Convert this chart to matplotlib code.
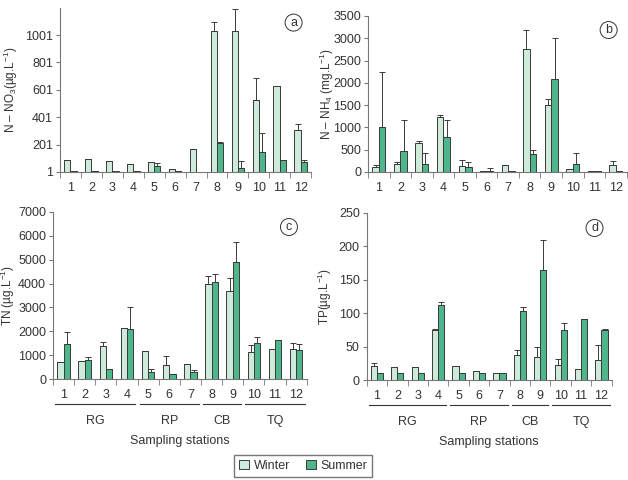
import matplotlib
matplotlib.use("Agg")
import matplotlib.pyplot as plt
import numpy as np
from matplotlib.patches import Patch

plt.rcParams['font.family'] = ['Liberation Sans', 'DejaVu Sans']
plt.rcParams['font.size'] = 9
plt.rcParams['mathtext.fontset'] = 'custom'
plt.rcParams['mathtext.rm'] = 'Liberation Sans'
plt.rcParams['mathtext.it'] = 'Liberation Sans'
plt.rcParams['text.color'] = '#333333'
plt.rcParams['axes.labelcolor'] = '#333333'
plt.rcParams['xtick.color'] = '#555555'
plt.rcParams['ytick.color'] = '#555555'
plt.rcParams['xtick.labelcolor'] = '#333333'
plt.rcParams['ytick.labelcolor'] = '#333333'

stations = [str(i) for i in range(1, 13)]
groups = ["RG", "RP", "CB", "TQ"]
group_ranges = [(1, 4), (5, 7), (8, 9), (10, 12)]

# N-NO3 (µg/L)
no3_winter = [85, 98, 81, 57, 72, 25, 172, 1030, 1030, 528, 628, 308]
no3_winter_err = [0, 0, 0, 0, 0, 0, 0, 65, 160, 157, 0, 47]
no3_summer = [8, 6, 5, 5, 45, 5, 3, 213, 33, 147, 86, 72]
no3_summer_err = [0, 0, 0, 0, 25, 0, 0, 9, 51, 142, 0, 14]

# N-NH4
nh4_winter = [120, 170, 640, 1240, 125, 25, 150, 2760, 1510, 60, 30, 150]
nh4_winter_err = [40, 60, 50, 30, 145, 0, 0, 435, 130, 0, 0, 105]
nh4_summer = [1000, 478, 170, 775, 105, 30, 15, 405, 2080, 180, 20, 20]
nh4_summer_err = [1246, 682, 260, 390, 120, 50, 0, 80, 920, 255, 0, 0]

# TN
tn_winter = [700, 740, 1380, 2120, 1160, 590, 610, 4000, 3670, 1130, 1240, 1240]
tn_winter_err = [0, 0, 150, 0, 0, 370, 0, 300, 555, 280, 0, 270]
tn_summer = [1480, 800, 400, 2100, 310, 210, 300, 4070, 4910, 1520, 1630, 1210]
tn_summer_err = [470, 120, 0, 900, 120, 0, 90, 310, 850, 220, 0, 270]

# TP
tp_winter = [21, 19, 20, 75, 21, 13, 10, 37, 35, 22, 17, 30]
tp_winter_err = [4, 0, 0, 2, 0, 0, 0, 8, 15, 9, 0, 22]
tp_summer = [10, 10, 10, 113, 10, 10, 10, 103, 165, 75, 91, 75]
tp_summer_err = [0, 0, 0, 4, 0, 0, 0, 7, 45, 11, 0, 2]

c_winter = "#cdeadb"
c_summer = "#4fb68c"
edge = "#3a3a3a"

fig = plt.figure(figsize=(6.28, 4.8), dpi=100)

ax_a = fig.add_axes([0.0955, 0.6417, 0.400, 0.342])
ax_b = fig.add_axes([0.586, 0.6417, 0.412, 0.325])
ax_c = fig.add_axes([0.0844, 0.2104, 0.404, 0.348])
ax_d = fig.add_axes([0.584, 0.2083, 0.390, 0.348])

x = np.arange(1, 13)
w = 0.3


def draw(ax, wv, we, sv, se, ylim, yticks, ylabel, letter, labx):
    ax.bar(x - w / 2, wv, w, color=c_winter, edgecolor=edge, linewidth=0.7,
           yerr=[np.zeros(12), we], capsize=2.5,
           error_kw=dict(ecolor=edge, elinewidth=0.7, capthick=0.7))
    ax.bar(x + w / 2, sv, w, color=c_summer, edgecolor=edge, linewidth=0.7,
           yerr=[np.zeros(12), se], capsize=2.5,
           error_kw=dict(ecolor=edge, elinewidth=0.7, capthick=0.7))
    ax.set_xlim(0.5, 12.5)
    ax.set_ylim(*ylim)
    ax.set_yticks(yticks)
    ax.set_xticks(x)
    ax.set_xticklabels(stations)
    ax.set_xticks(np.arange(0.5, 13, 1), minor=True)
    ax.tick_params(axis='x', which='major', length=0, pad=7)
    ax.tick_params(axis='x', which='minor', length=4, direction='out', color='#777777')
    ax.tick_params(axis='y', length=3, color='#777777', pad=2)
    for s in ['top', 'right']:
        ax.spines[s].set_visible(False)
    for s in ['left', 'bottom']:
        ax.spines[s].set_color('#777777')
        ax.spines[s].set_linewidth(0.8)
    ax.set_ylabel(ylabel, fontsize=8.5)
    ax.yaxis.set_label_coords(labx, 0.5)
    ax.text(0.93, 0.91, letter, transform=ax.transAxes, ha='center', va='center',
            fontsize=9,
            bbox=dict(boxstyle='circle,pad=0.2', fc='white', ec='#333333', lw=0.7))


draw(ax_a, no3_winter, no3_winter_err, no3_summer, no3_summer_err,
     (1, 1200), [1, 201, 401, 601, 801, 1001],
     r"N – NO$_3$(µg.L$^{-1}$)", "a", -0.16)
draw(ax_b, nh4_winter, nh4_winter_err, nh4_summer, nh4_summer_err,
     (0, 3500), range(0, 3501, 500),
     r"N – NH$_4$ (mg.L$^{-1}$)", "b", -0.124)
draw(ax_c, tn_winter, tn_winter_err, tn_summer, tn_summer_err,
     (0, 7000), range(0, 7001, 1000),
     r"TN (µg.L$^{-1}$)", "c", -0.14)
draw(ax_d, tp_winter, tp_winter_err, tp_summer, tp_summer_err,
     (0, 250), range(0, 251, 50),
     r"TP(µg.L$^{-1}$)", "d", -0.135)

for ax in (ax_c, ax_d):
    trans = ax.get_xaxis_transform()
    for name, (g0, g1) in zip(groups, group_ranges):
        ax.plot([g0 - 0.4, g1 + 0.4], [-0.15, -0.15], transform=trans,
                color='#333333', lw=0.8, clip_on=False)
        ax.text((g0 + g1) / 2, -0.25, name, transform=trans, ha='center', va='center')
    ax.text(0.5, -0.37, "Sampling stations", transform=ax.transAxes,
            ha='center', va='center')

handles = [Patch(facecolor=c_winter, edgecolor=edge, lw=0.7, label="Winter"),
           Patch(facecolor=c_summer, edgecolor=edge, lw=0.7, label="Summer")]
fig.legend(handles=handles, loc='center', bbox_to_anchor=(0.483, 0.03), ncol=2,
           frameon=True, fancybox=False, edgecolor='#555555', handlelength=0.8,
           handleheight=0.8, handletextpad=0.4, columnspacing=1.2, borderpad=0.4)

fig.savefig("out.png", dpi=100)
